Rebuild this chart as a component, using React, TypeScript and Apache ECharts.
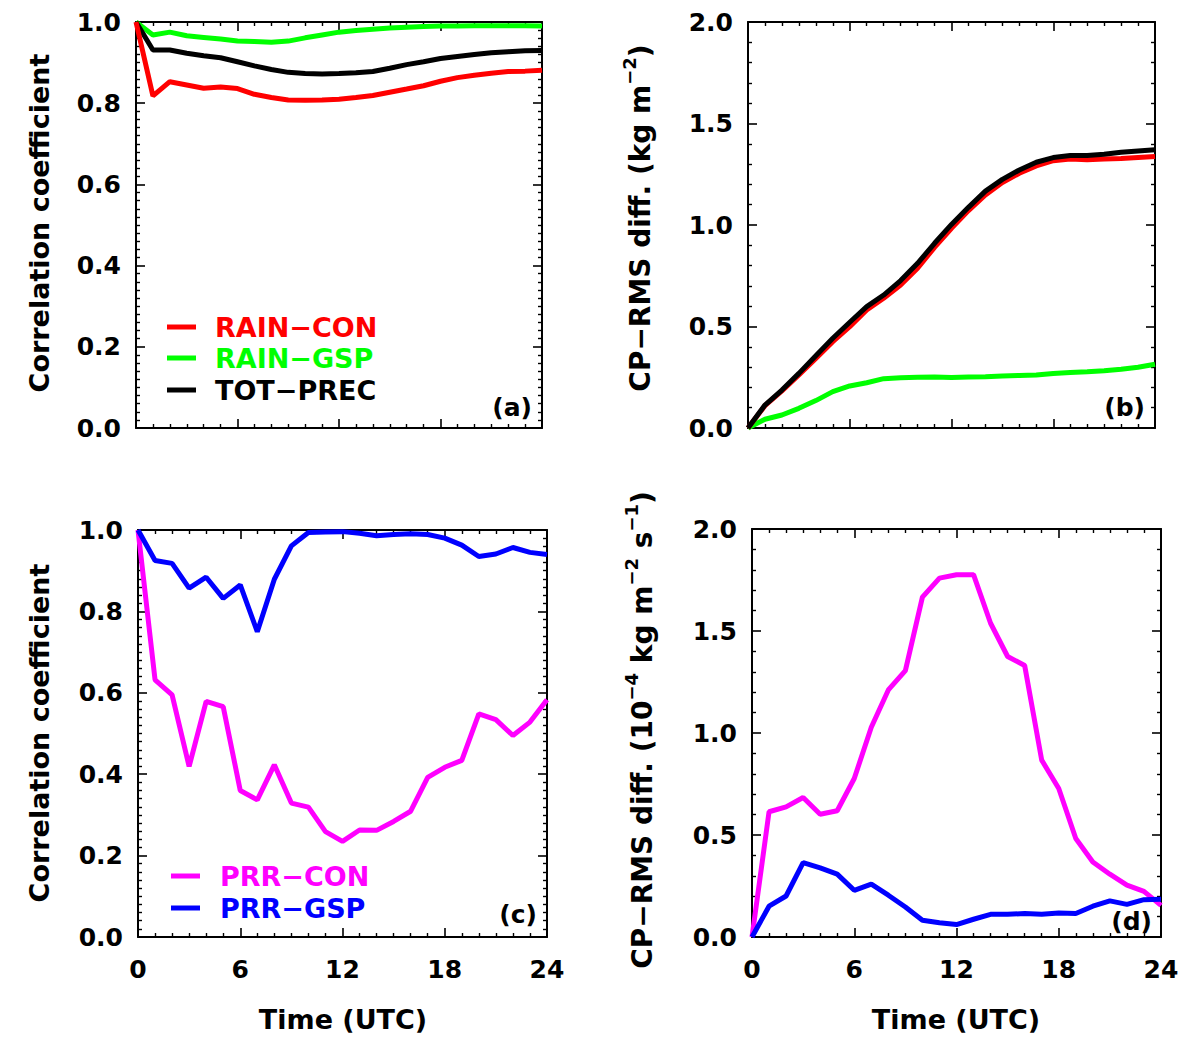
import React, { useEffect, useRef } from "react";
import * as echarts from "echarts";

// Forecast hour (UTC)
const HOURS = [0, 1, 2, 3, 4, 5, 6, 7, 8, 9, 10, 11, 12, 13, 14, 15, 16, 17, 18, 19, 20, 21, 22, 23, 24];

// (a) correlation coefficient of accumulated precipitation
const corrRainCon = [1.0, 0.818, 0.853, 0.845, 0.837, 0.84, 0.836, 0.822, 0.814, 0.808, 0.807, 0.808, 0.81, 0.814, 0.819, 0.827, 0.835, 0.843, 0.854, 0.863, 0.869, 0.874, 0.878, 0.879, 0.881];
const corrRainGsp = [1.0, 0.968, 0.975, 0.966, 0.962, 0.958, 0.953, 0.952, 0.95, 0.953, 0.961, 0.968, 0.975, 0.979, 0.982, 0.985, 0.987, 0.989, 0.99, 0.99, 0.991, 0.991, 0.991, 0.991, 0.99];
const corrTotPrec = [1.0, 0.931, 0.931, 0.923, 0.917, 0.912, 0.902, 0.892, 0.883, 0.876, 0.873, 0.872, 0.873, 0.875, 0.878, 0.886, 0.895, 0.902, 0.91, 0.915, 0.92, 0.924, 0.927, 0.929, 0.93];

// (b) CP-RMS difference of accumulated precipitation (kg m-2)
const rmsRainCon = [0, 0.11, 0.183, 0.261, 0.343, 0.425, 0.499, 0.581, 0.639, 0.704, 0.787, 0.89, 0.984, 1.071, 1.148, 1.209, 1.255, 1.291, 1.317, 1.325, 1.322, 1.325, 1.328, 1.333, 1.337];
const rmsRainGsp = [0, 0.043, 0.064, 0.097, 0.135, 0.179, 0.207, 0.223, 0.243, 0.248, 0.25, 0.251, 0.249, 0.251, 0.253, 0.256, 0.259, 0.261, 0.269, 0.273, 0.277, 0.282, 0.289, 0.299, 0.314];
const rmsTotPrec = [0, 0.113, 0.187, 0.269, 0.356, 0.442, 0.521, 0.598, 0.655, 0.726, 0.811, 0.91, 1.003, 1.087, 1.167, 1.225, 1.271, 1.309, 1.332, 1.342, 1.342, 1.348, 1.358, 1.365, 1.371];

// (c) correlation coefficient of precipitation rate
const corrPrrCon = [1.0, 0.632, 0.595, 0.419, 0.579, 0.566, 0.36, 0.337, 0.423, 0.329, 0.319, 0.259, 0.235, 0.263, 0.262, 0.284, 0.309, 0.392, 0.417, 0.434, 0.548, 0.534, 0.495, 0.528, 0.583];
const corrPrrGsp = [1.0, 0.925, 0.918, 0.857, 0.884, 0.832, 0.865, 0.75, 0.879, 0.961, 0.994, 0.995, 0.996, 0.992, 0.986, 0.989, 0.991, 0.989, 0.98, 0.963, 0.935, 0.941, 0.957, 0.945, 0.94];

// (d) CP-RMS difference of precipitation rate (1e-4 kg m-2 s-1)
const rmsPrrCon = [0, 0.614, 0.638, 0.684, 0.602, 0.619, 0.777, 1.028, 1.211, 1.306, 1.666, 1.759, 1.776, 1.776, 1.538, 1.375, 1.331, 0.867, 0.728, 0.483, 0.368, 0.308, 0.254, 0.224, 0.155];
const rmsPrrGsp = [0, 0.151, 0.201, 0.365, 0.339, 0.308, 0.229, 0.259, 0.205, 0.147, 0.082, 0.07, 0.061, 0.087, 0.111, 0.111, 0.115, 0.111, 0.118, 0.115, 0.151, 0.177, 0.16, 0.183, 0.185];

const FONT = "DejaVu Sans";
const RED = "#ff0000";
const GREEN = "#00ff00";
const BLACK = "#000000";
const MAGENTA = "#ff00ff";
const BLUE = "#0000ff";

const GRIDS = [
  { left: 136, top: 22, width: 406, height: 406 },
  { left: 748, top: 22, width: 407, height: 406 },
  { left: 138, top: 530, width: 409, height: 407 },
  { left: 752, top: 529, width: 409, height: 408 },
];

// per panel: y max, y major interval, minor subdivisions
const PANEL_Y = [
  { max: 1, interval: 0.2, minor: 10 },
  { max: 2, interval: 0.5, minor: 5 },
  { max: 1, interval: 0.2, minor: 10 },
  { max: 2, interval: 0.5, minor: 5 },
];

const frameLine = { show: true, onZero: false, lineStyle: { color: "#000", width: 2 } };
const majorTick = { show: true, inside: true, length: 9, lineStyle: { color: "#000", width: 1.6 } };
const labelFont = { fontFamily: FONT, fontWeight: "bold" as const, fontSize: 25, color: "#000" };

function xAxes(i: number) {
  const base = {
    type: "value",
    gridIndex: i,
    min: 0,
    max: 24,
    interval: 6,
    axisLine: frameLine,
    axisTick: majorTick,
    minorTick: { show: true, splitNumber: 6, length: 4, lineStyle: { color: "#000", width: 1.4 } },
    splitLine: { show: false },
    minorSplitLine: { show: false },
  };
  return [
    { ...base, position: "bottom", axisLabel: { show: i >= 2, margin: 20, ...labelFont } },
    { ...base, position: "top", axisLabel: { show: false } },
  ];
}

function yAxes(i: number) {
  const p = PANEL_Y[i];
  const base = {
    type: "value",
    gridIndex: i,
    min: 0,
    max: p.max,
    interval: p.interval,
    axisLine: frameLine,
    axisTick: majorTick,
    minorTick: { show: true, splitNumber: p.minor, length: 4, lineStyle: { color: "#000", width: 1.4 } },
    splitLine: { show: false },
    minorSplitLine: { show: false },
  };
  return [
    {
      ...base,
      position: "left",
      axisLabel: { show: true, margin: 15, formatter: (v: number) => v.toFixed(1), ...labelFont },
    },
    { ...base, position: "right", axisLabel: { show: false } },
  ];
}

function lineSeries(name: string, panel: number, values: number[], color: string) {
  return {
    name,
    type: "line",
    xAxisIndex: panel * 2,
    yAxisIndex: panel * 2,
    data: HOURS.map((h, k) => [h, values[k]]),
    showSymbol: false,
    symbol: "none",
    clip: false,
    z: 5,
    lineStyle: { color, width: 5 },
  };
}

const titleRich = (size: number) => ({
  n: { fontFamily: FONT, fontWeight: "bold", fontSize: size, lineHeight: 40, verticalAlign: "middle", fill: "#000" },
  s: { fontFamily: FONT, fontWeight: "bold", fontSize: 18, lineHeight: 18, verticalAlign: "top", fill: "#000" },
});

function vText(x: number, y: number, text: string, size: number) {
  return {
    type: "text",
    x,
    y,
    rotation: Math.PI / 2,
    style: {
      text,
      rich: titleRich(size),
      fontFamily: FONT,
      fontWeight: "bold",
      fontSize: size,
      fill: "#000",
      align: "center",
      verticalAlign: "middle",
    },
  };
}

function hText(x: number, y: number, text: string, size: number, color: string, align = "left") {
  return {
    type: "text",
    x,
    y,
    style: { text, fontFamily: FONT, fontWeight: "bold", fontSize: size, fill: color, align, verticalAlign: "middle" },
  };
}

function legendEntry(x: number, y: number, textX: number, label: string, color: string) {
  return [
    { type: "line", shape: { x1: x, y1: y, x2: x + 29, y2: y }, style: { stroke: color, lineWidth: 5 } },
    hText(textX, y, label, 27, color),
  ];
}

export default function App() {
  const ref = useRef<HTMLDivElement>(null);

  useEffect(() => {
    if (!ref.current) return;
    const chart = echarts.init(ref.current, undefined, { renderer: "svg" });

    const option = {
      animation: false,
      backgroundColor: "#ffffff",
      grid: GRIDS.map((g) => ({ ...g, containLabel: false, outerBoundsMode: "none" })),
      xAxis: [0, 1, 2, 3].flatMap((i) => xAxes(i)),
      yAxis: [0, 1, 2, 3].flatMap((i) => yAxes(i)),
      series: [
        lineSeries("RAIN−GSP", 0, corrRainGsp, GREEN),
        lineSeries("TOT−PREC", 0, corrTotPrec, BLACK),
        lineSeries("RAIN−CON", 0, corrRainCon, RED),
        lineSeries("RAIN−GSP", 1, rmsRainGsp, GREEN),
        lineSeries("RAIN−CON", 1, rmsRainCon, RED),
        lineSeries("TOT−PREC", 1, rmsTotPrec, BLACK),
        lineSeries("PRR−CON", 2, corrPrrCon, MAGENTA),
        lineSeries("PRR−GSP", 2, corrPrrGsp, BLUE),
        lineSeries("PRR−CON", 3, rmsPrrCon, MAGENTA),
        lineSeries("PRR−GSP", 3, rmsPrrGsp, BLUE),
      ],
      graphic: [
        vText(39, 223, "{n|Correlation coefficient}", 27),
        vText(39, 733, "{n|Correlation coefficient}", 27),
        vText(640, 218, "{n|CP−RMS diff. (kg m}{s|−2}{n|)}", 28),
        vText(642, 730, "{n|CP−RMS diff. (10}{s|−4}{n| kg m}{s|−2}{n| s}{s|−1}{n|)}", 28),
        hText(343, 1019, "Time (UTC)", 27, "#000", "center"),
        hText(956, 1019, "Time (UTC)", 27, "#000", "center"),
        ...legendEntry(167, 327, 215, "RAIN−CON", RED),
        ...legendEntry(167, 358, 215, "RAIN−GSP", GREEN),
        ...legendEntry(167, 390, 215, "TOT−PREC", BLACK),
        ...legendEntry(171, 876, 220, "PRR−CON", MAGENTA),
        ...legendEntry(171, 908, 220, "PRR−GSP", BLUE),
        hText(532, 407, "(a)", 25, "#000", "right"),
        hText(1145, 407, "(b)", 25, "#000", "right"),
        hText(537, 914, "(c)", 25, "#000", "right"),
        hText(1152, 921, "(d)", 25, "#000", "right"),
      ],
    };

    chart.setOption(option as any);
    return () => chart.dispose();
  }, []);

  return (
    <div
      ref={ref}
      style={{ position: "absolute", left: 0, top: 0, width: 1186, height: 1039, background: "#fff" }}
    />
  );
}
